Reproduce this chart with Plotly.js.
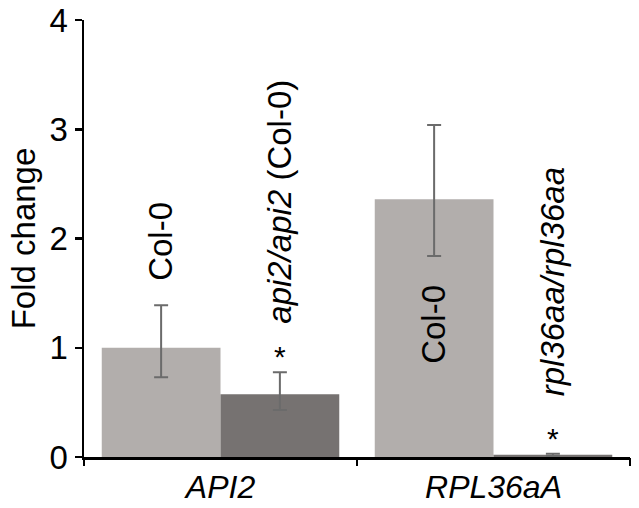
<!DOCTYPE html>
<html>
<head>
<meta charset="utf-8">
<script src="https://cdn.plot.ly/plotly-3.0.1.min.js"></script>
<style>html,body{margin:0;padding:0;background:#fff;}#chart{width:639px;height:508px;}</style>
</head>
<body>
<div id="chart"></div>
<script>
const categories = ['API2', 'RPL36aA'];
const tickLabels = ['<i>API2</i>', '<i>RPL36aA</i>'];
const wtValues = [1.0, 2.36];
const wtErrPlus = [0.39, 0.68];
const wtErrMinus = [0.27, 0.52];
const mutValues = [0.575, 0.02];
const mutErrPlus = [0.20, 0.01];
const mutErrMinus = [0.145, 0.01];
const wtLabels = ['Col-0', 'Col-0'];
const mutLabels = ['<i>api2/api2</i> (Col-0)', '<i>rpl36aa/rpl36aa</i>'];
const significance = ['*', '*'];
const wtLabelY = [1.60, 0.84];
const mutLabelY = [1.21, 0.55];

const FONT = 'Liberation Sans, Arial, sans-serif';
const bargap = 0.13;
const half = (1 - bargap) / 4;
const idx = categories.map((c, i) => i);

const errStyle = {type: 'data', symmetric: false, color: '#6b6b6b', thickness: 2, width: 7};

const traces = [
  {type: 'bar', x: idx, y: wtValues, marker: {color: '#b2aeac'},
   error_y: Object.assign({array: wtErrPlus, arrayminus: wtErrMinus}, errStyle)},
  {type: 'bar', x: idx, y: mutValues, marker: {color: '#767271'},
   error_y: Object.assign({array: mutErrPlus, arrayminus: mutErrMinus}, errStyle)}
];

const annotations = [];
idx.forEach(i => {
  annotations.push({x: i - half, y: wtLabelY[i], xref: 'x', yref: 'y', text: wtLabels[i],
    textangle: -90, showarrow: false, yanchor: 'bottom', borderpad: 0, font: {family: FONT, size: 33, color: '#000'}});
  annotations.push({x: i + half, y: mutLabelY[i], xref: 'x', yref: 'y', text: mutLabels[i],
    textangle: -90, showarrow: false, yanchor: 'bottom', borderpad: 0, font: {family: FONT, size: 33, color: '#000'}});
  annotations.push({x: i + half, y: mutValues[i] + mutErrPlus[i], xref: 'x', yref: 'y', text: significance[i],
    showarrow: false, yanchor: 'bottom', yshift: -3, font: {family: FONT, size: 30, color: '#000'}});
});

const layout = {
  width: 639, height: 508,
  margin: {l: 84, r: 9, t: 20, b: 51},
  paper_bgcolor: '#fff', plot_bgcolor: '#fff',
  showlegend: false,
  barmode: 'group', bargap: bargap, bargroupgap: 0,
  font: {family: FONT, color: '#000'},
  xaxis: {
    type: 'linear', range: [-0.5, 1.5], tickvals: idx, ticktext: tickLabels,
    showgrid: false, zeroline: false, showline: true, linecolor: '#000', linewidth: 2.5,
    ticks: '', tickfont: {family: FONT, size: 32, color: '#000'}
  },
  xaxis2: {
    overlaying: 'x', range: [-0.5, 1.5], tickvals: [-0.5, 0.5, 1.5], ticktext: ['', '', ''],
    ticks: 'outside', ticklen: 8, tickwidth: 2.5, tickcolor: '#000', showgrid: false, zeroline: false,
    showline: false, anchor: 'y'
  },
  yaxis: {
    range: [0, 4], tickvals: [0, 1, 2, 3, 4], showgrid: false, zeroline: false,
    showline: true, linecolor: '#000', linewidth: 2.5, ticks: 'outside', ticklen: 7, tickwidth: 2.5,
    tickcolor: '#000', tickfont: {family: FONT, size: 33, color: '#000'},
    title: {text: 'Fold change', font: {family: FONT, size: 33, color: '#000'}, standoff: 4}
  },
  annotations: annotations
};

traces.push({type: 'scatter', x: [-0.5, 1.5], y: [0, 0], xaxis: 'x2', mode: 'none', hoverinfo: 'skip'});

Plotly.newPlot('chart', traces, layout, {displayModeBar: false, staticPlot: true});
</script>
</body>
</html>
